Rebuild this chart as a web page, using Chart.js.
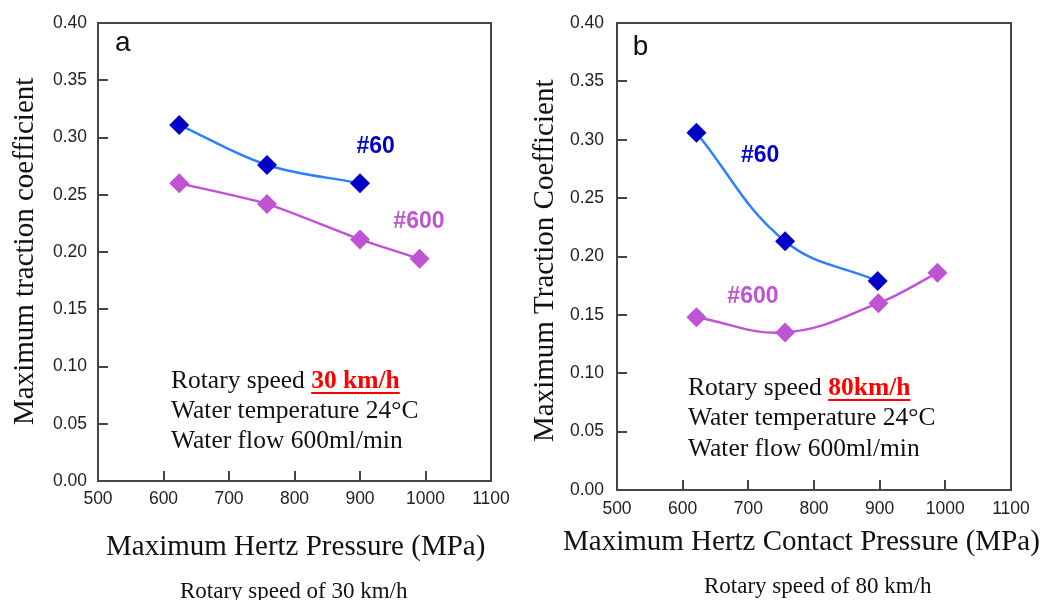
<!DOCTYPE html>
<html>
<head>
<meta charset="utf-8">
<script src="https://cdn.jsdelivr.net/npm/chart.js@4.4.1/dist/chart.umd.min.js"></script>
<style>
  html, body { margin: 0; padding: 0; background: #fff; overflow: hidden; }
  #wrap { position: relative; width: 1053px; height: 600px; }
  canvas { position: absolute; top: 0; }
</style>
</head>
<body>
<div id="wrap">
  <canvas id="panelA" width="520" height="600" style="left:0"></canvas>
  <canvas id="panelB" width="533" height="600" style="left:520px"></canvas>
</div>
<script>
// ---- data ----
const seriesNames = ['#60', '#600'];
const pressureTicks = [500, 600, 700, 800, 900, 1000, 1100];
const tractionTicks = [0, 0.05, 0.10, 0.15, 0.20, 0.25, 0.30, 0.35, 0.40];

// panel a: rotary speed 30 km/h
const pressureA60  = [624, 758, 900];
const tractionA60  = [0.311, 0.276, 0.260];
const pressureA600 = [624, 758, 900, 991];
const tractionA600 = [0.260, 0.242, 0.211, 0.194];

// panel b: rotary speed 80 km/h
const pressureB60  = [621, 756, 897];
const tractionB60  = [0.306, 0.213, 0.179];
const pressureB600 = [621, 756, 898, 988];
const tractionB600 = [0.148, 0.135, 0.160, 0.186];

// ---- styles ----
const AXIS = '#454545';
const TEXT = '#111';
const BLUE_LINE = '#2a80ff';
const BLUE_MARK = '#0000c8';
const PURPLE = '#c053d4';
const SERIF = '"Liberation Serif", "Times New Roman", serif';
const SANS = '"Liberation Sans", Arial, sans-serif';

const toPoints = (xs, ys) => xs.map((x, i) => ({ x, y: ys[i] }));

// frame, panel letter, series labels, conditions box, axis titles, caption
const panelDecor = {
  id: 'panelDecor',
  afterDraw(chart, args, o) {
    const { ctx, chartArea: a, scales: { x, y } } = chart;
    ctx.save();

    // closing frame (top and right edges)
    ctx.strokeStyle = AXIS;
    ctx.lineWidth = 2;
    ctx.beginPath();
    ctx.moveTo(a.left, a.top);
    ctx.lineTo(a.right, a.top);
    ctx.lineTo(a.right, a.bottom);
    ctx.stroke();

    // panel letter
    ctx.fillStyle = TEXT;
    ctx.font = '28px ' + SANS;
    ctx.textAlign = 'center';
    ctx.textBaseline = 'middle';
    ctx.fillText(o.letter.text, x.getPixelForValue(o.letter.x), y.getPixelForValue(o.letter.y));

    // series labels
    ctx.font = 'bold 23px ' + SANS;
    o.seriesLabels.forEach(l => {
      ctx.fillStyle = l.color;
      ctx.fillText(l.text, x.getPixelForValue(l.x), y.getPixelForValue(l.y));
    });

    // test conditions
    ctx.textAlign = 'left';
    ctx.textBaseline = 'alphabetic';
    const bx = o.box.left;
    const lead = 'Rotary speed ';
    ctx.font = '25.5px ' + SERIF;
    ctx.fillStyle = TEXT;
    ctx.fillText(lead, bx, o.box.baselines[0]);
    const leadW = ctx.measureText(lead).width;
    ctx.font = 'bold 25.5px ' + SERIF;
    ctx.fillStyle = '#ff0000';
    ctx.fillText(o.box.speed, bx + leadW, o.box.baselines[0]);
    const spW = ctx.measureText(o.box.speed).width;
    ctx.fillRect(bx + leadW, o.box.baselines[0] + 4, spW, 2);
    ctx.font = '25.5px ' + SERIF;
    ctx.fillStyle = TEXT;
    ctx.fillText('Water temperature 24°C', bx, o.box.baselines[1]);
    ctx.fillText('Water flow 600ml/min', bx, o.box.baselines[2]);

    // axis titles
    ctx.font = '29px ' + SERIF;
    ctx.fillText(o.xTitle.text, o.xTitle.left, o.xTitle.baseline);
    ctx.save();
    ctx.translate(o.yTitle.baseline, o.yTitle.start);
    ctx.rotate(-Math.PI / 2);
    ctx.fillText(o.yTitle.text, 0, 0);
    ctx.restore();

    // caption
    ctx.font = '23px ' + SERIF;
    ctx.fillText(o.caption.text, o.caption.left, o.caption.baseline);

    ctx.restore();
  }
};

function makePanel(id, cfg) {
  const W = document.getElementById(id).width;
  return new Chart(document.getElementById(id), {
    type: 'line',
    data: {
      datasets: [
        {
          label: seriesNames[0],
          data: toPoints(cfg.p60, cfg.t60),
          borderColor: BLUE_LINE,
          borderWidth: 2.5,
          pointStyle: 'rectRot',
          pointRadius: 10,
          pointBackgroundColor: BLUE_MARK,
          pointBorderColor: BLUE_MARK,
          pointBorderWidth: 0,
          tension: cfg.tension60,
          fill: false
        },
        {
          label: seriesNames[1],
          data: toPoints(cfg.p600, cfg.t600),
          borderColor: PURPLE,
          borderWidth: 2.5,
          pointStyle: 'rectRot',
          pointRadius: 10,
          pointBackgroundColor: PURPLE,
          pointBorderColor: PURPLE,
          pointBorderWidth: 0,
          tension: cfg.tension600,
          fill: false
        }
      ]
    },
    options: {
      responsive: false,
      animation: false,
      devicePixelRatio: 1,
      layout: { padding: { left: 0, top: cfg.area.top, right: W - cfg.area.right, bottom: 0 } },
      plugins: {
        legend: { display: false },
        tooltip: { enabled: false },
        panelDecor: cfg.decor
      },
      scales: {
        x: {
          type: 'linear',
          min: 500, max: 1100,
          afterBuildTicks: s => { s.ticks = pressureTicks.map(v => ({ value: v })); },
          afterFit: s => {
            s.height = 600 - cfg.area.bottom;
            s.paddingLeft = 0;
            s.paddingRight = 0;
          },
          border: { display: true, color: AXIS, width: 2 },
          grid: { display: true, drawOnChartArea: false, drawTicks: true, tickLength: -10, color: AXIS, lineWidth: 2 },
          ticks: {
            padding: cfg.xPad,
            color: '#222',
            font: { family: SANS, size: 17.5 },
            maxRotation: 0,
            callback: v => String(v)
          }
        },
        y: {
          type: 'linear',
          min: 0, max: 0.4,
          afterBuildTicks: s => { s.ticks = tractionTicks.map(v => ({ value: v })); },
          afterFit: s => {
            s.width = cfg.area.left;
            s.paddingTop = 0;
            s.paddingBottom = 0;
          },
          border: { display: true, color: AXIS, width: 2 },
          grid: { display: true, drawOnChartArea: false, drawTicks: true, tickLength: -10, color: AXIS, lineWidth: 2 },
          ticks: {
            padding: cfg.yPad,
            color: '#222',
            font: { family: SANS, size: 17.5 },
            callback: v => Number(v).toFixed(2)
          }
        }
      }
    },
    plugins: [panelDecor]
  });
}

makePanel('panelA', {
  p60: pressureA60, t60: tractionA60, p600: pressureA600, t600: tractionA600,
  tension60: 0.35, tension600: 0.2,
  area: { left: 98, right: 491, top: 23, bottom: 481 },
  xPad: 18, yPad: 21,
  decor: {
    letter: { text: 'a', x: 538, y: 0.3825 },
    seriesLabels: [
      { text: seriesNames[0], x: 924, y: 0.292, color: BLUE_MARK },
      { text: seriesNames[1], x: 990, y: 0.2265, color: PURPLE }
    ],
    box: { left: 171, baselines: [388, 418, 448], speed: '30 km/h' },
    xTitle: { text: 'Maximum Hertz Pressure (MPa)', left: 106, baseline: 555 },
    yTitle: { text: 'Maximum traction coefficient', baseline: 33, start: 425 },
    caption: { text: 'Rotary speed of 30 km/h', left: 180, baseline: 598 }
  }
});

makePanel('panelB', {
  p60: pressureB60, t60: tractionB60, p600: pressureB600, t600: tractionB600,
  tension60: 0.4, tension600: 0.4,
  area: { left: 97, right: 491, top: 23, bottom: 490 },
  xPad: 19, yPad: 23,
  decor: {
    letter: { text: 'b', x: 536, y: 0.3795 },
    seriesLabels: [
      { text: seriesNames[0], x: 718, y: 0.286, color: BLUE_MARK },
      { text: seriesNames[1], x: 707, y: 0.1655, color: PURPLE }
    ],
    box: { left: 168, baselines: [395, 425, 456], speed: '80km/h' },
    xTitle: { text: 'Maximum Hertz Contact Pressure (MPa)', left: 43, baseline: 550 },
    yTitle: { text: 'Maximum Traction Coefficient', baseline: 33, start: 442 },
    caption: { text: 'Rotary speed of 80 km/h', left: 184, baseline: 593 }
  }
});
</script>
</body>
</html>
